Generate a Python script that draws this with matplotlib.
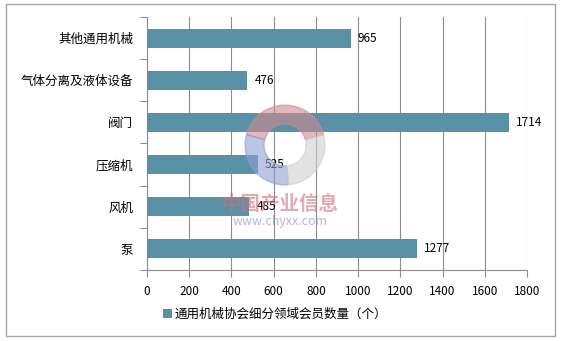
import matplotlib.pyplot as plt
from matplotlib.patches import Rectangle, Wedge

plt.rcParams['font.family'] = ['Noto Sans CJK SC', 'DejaVu Sans']

categories = ['其他通用机械', '气体分离及液体设备', '阀门', '压缩机', '风机', '泵']
values = [965, 476, 1714, 525, 485, 1277]
xticks = [0, 200, 400, 600, 800, 1000, 1200, 1400, 1600, 1800]
legend_label = '通用机械协会细分领域会员数量（个）'

bar_color = '#5b91a6'
grid_color = '#8c8c8c'

W, H = 566, 341
fig = plt.figure(figsize=(W/100, H/100), dpi=100)
ax = fig.add_axes([147/W, 1 - 270/H, (527 - 147)/W, (270 - 17)/H])

# outer frame
fig.patches.append(Rectangle((6/W, 5/H), 549/W, 332/H, transform=fig.transFigure,
                             fill=False, edgecolor='#a6a6a6', linewidth=1))

y = list(range(len(categories)))
ax.barh(y, values, height=0.45, color=bar_color, zorder=3, label=legend_label)
for yi, v in zip(y, values):
    ax.text(v + 33, yi, str(v), va='center', ha='left', fontsize=8.5, zorder=7)

ax.set_ylim(len(categories) - 0.5, -0.5)
ax.set_xlim(0, 1800)
ax.set_yticks([i - 0.5 for i in range(len(categories) + 1)])
ax.set_yticklabels([])
ax.set_yticks(y, minor=True)
ax.set_yticklabels(categories, minor=True, fontsize=9)
ax.tick_params(axis='y', which='minor', length=0, pad=10)
ax.tick_params(axis='y', which='major', length=5, color=grid_color)
ax.set_xticks(xticks)
ax.set_xticklabels([str(t) for t in xticks], fontsize=8.5)
ax.tick_params(axis='x', length=5, color=grid_color, pad=6)

ax.grid(axis='x', color=grid_color, linewidth=0.8, zorder=0)
for s in ['top', 'right']:
    ax.spines[s].set_visible(False)
for s in ['left', 'bottom']:
    ax.spines[s].set_color(grid_color)

# watermark logo
cx, cy, r = 285, 145, 42
wm = fig.add_axes([(cx - r)/W, 1 - (cy + r)/H, 2*r/W, 2*r/H], zorder=4)
wm.set_xlim(-1, 1)
wm.set_ylim(-1, 1)
wm.set_aspect('equal')
wm.axis('off')
wm.patch.set_alpha(0)
for th1, th2, col in [(15, 165, '#cf8a8f'), (165, 275, '#8f9fd2'), (275, 375, '#cfcfcf')]:
    wm.add_patch(Wedge((0, 0), 0.95, th1, th2, width=0.45, color=col, alpha=0.6))
fig.text(280/W, 1 - 204/H, '中国产业信息', fontsize=14, fontweight='bold', color='#d07078',
         alpha=0.6, ha='center', va='center', zorder=6)
fig.text(280/W, 1 - 222/H, 'www.chyxx.com', fontsize=9, color='#8c9cd0',
         alpha=0.7, ha='center', va='center', zorder=6)

ax.legend(loc='center', bbox_to_anchor=(275/W, 1 - 314/H), bbox_transform=fig.transFigure,
          frameon=False, fontsize=9, handlelength=0.7, handleheight=0.7, handletextpad=0.2)

fig.savefig('out.png', dpi=100)
